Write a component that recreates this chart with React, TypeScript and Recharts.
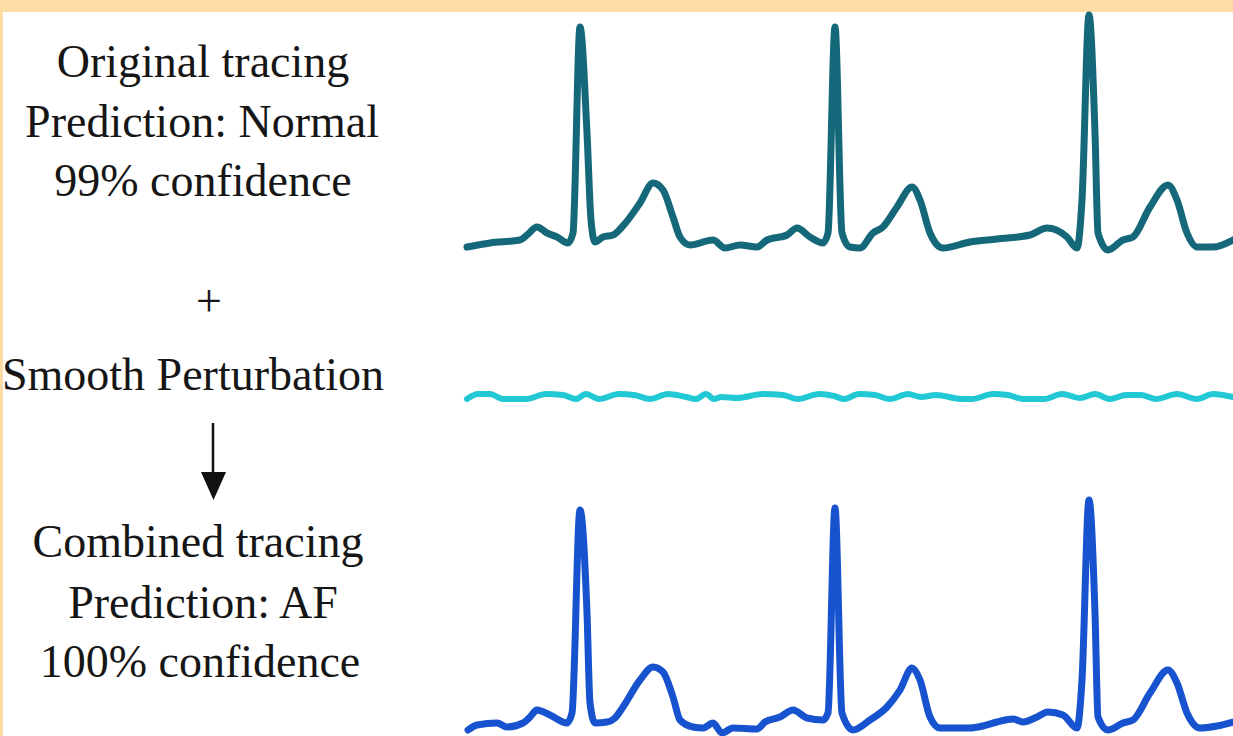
import React from "react";
import { LineChart, Line, XAxis, YAxis } from "recharts";

// ---- Data (time in samples, amplitude in arbitrary units above baseline) ----
const originalT = [467, 490, 520, 527, 537, 547, 557, 568, 573, 580, 587, 591, 595, 603, 613, 622, 640, 653, 663, 673, 680, 690, 713, 725, 740, 757, 767, 787, 797, 810, 823, 828, 835, 842, 850, 860, 873, 883, 897, 912, 920, 930, 943, 970, 997, 1030, 1047, 1067, 1077, 1082, 1089, 1095, 1098, 1108, 1123, 1133, 1150, 1168, 1177, 1187, 1197, 1213, 1233];
const originalV = [3, 7, 10, 15, 23, 17, 13, 7, 17, 223, 117, 30, 8, 13, 15, 23, 47, 67, 60, 33, 13, 5, 10, 2, 5, 3, 10, 15, 22, 13, 7, 17, 223, 17, 3, 2, 17, 23, 43, 63, 50, 17, 2, 8, 11, 15, 22, 13, 2, 50, 235, 117, 17, 0, 10, 13, 43, 65, 50, 17, 3, 3, 10];

const perturbT = [467, 478, 490, 503, 526, 546, 563, 576, 586, 599, 619, 634, 650, 668, 686, 696, 706, 714, 721, 737, 763, 783, 798, 819, 834, 844, 859, 875, 890, 908, 921, 936, 962, 972, 993, 1008, 1023, 1044, 1062, 1080, 1095, 1110, 1126, 1141, 1156, 1177, 1197, 1213, 1233];
const perturbV = [0, 5, 5, 0, 0, 5, 4, 0, 5, 0, 5, 4, 0, 5, 2, 0, 5, 0, 2, 1, 5, 4, 0, 5, 3, 0, 5, 4, 0, 5, 2, 4, 0, 0, 5, 4, 0, 0, 5, 1, 5, 0, 4, 4, 0, 5, 0, 5, 2];

const combinedT = [468, 477, 497, 507, 523, 530, 537, 550, 567, 572, 580, 587, 590, 595, 607, 615, 623, 640, 653, 663, 673, 680, 693, 703, 713, 722, 733, 757, 765, 780, 793, 807, 823, 828, 835, 842, 853, 870, 887, 900, 912, 920, 930, 940, 970, 983, 997, 1013, 1023, 1037, 1048, 1063, 1077, 1082, 1089, 1095, 1098, 1108, 1123, 1133, 1150, 1168, 1177, 1187, 1200, 1217, 1233];
const combinedV = [0, 5, 7, 3, 7, 13, 20, 15, 7, 17, 220, 117, 27, 7, 8, 12, 23, 50, 63, 58, 33, 10, 3, 2, 7, -3, 2, 1, 8, 13, 20, 12, 10, 17, 222, 17, 0, 10, 23, 40, 62, 50, 13, 2, 2, 4, 8, 11, 8, 13, 18, 15, 2, 50, 230, 117, 13, 0, 7, 10, 37, 60, 47, 17, 2, 4, 8];

const labelsTop = ["Original tracing", "Prediction: Normal", "99% confidence"];
const labelsMid = ["+", "Smooth Perturbation"];
const labelsBottom = ["Combined tracing", "Prediction: AF", "100% confidence"];

const toRows = (t: number[], v: number[]) => t.map((x, i) => ({ t: x, v: v[i] }));

const X_DOMAIN: [number, number] = [450, 1240];
const M = 8;

type TraceProps = {
  rows: { t: number; v: number }[];
  yDomain: [number, number];
  plotTop: number;
  color: string;
  width: number;
};

function Trace({ rows, yDomain, plotTop, color, width }: TraceProps) {
  const plotH = yDomain[1] - yDomain[0];
  const plotW = X_DOMAIN[1] - X_DOMAIN[0];
  return (
    <div style={{ position: "absolute", left: X_DOMAIN[0] - M, top: plotTop - M }}>
      <LineChart
        width={plotW + 2 * M}
        height={plotH + 2 * M}
        data={rows}
        margin={{ top: M, right: M, bottom: M, left: M }}
      >
        <XAxis type="number" dataKey="t" domain={X_DOMAIN} hide />
        <YAxis type="number" domain={yDomain} hide />
        <Line
          type="monotone"
          dataKey="v"
          stroke={color}
          strokeWidth={width}
          strokeLinejoin="round"
          strokeLinecap="round"
          dot={false}
          activeDot={false}
          isAnimationActive={false}
        />
      </LineChart>
    </div>
  );
}

export default function App() {
  const font = "'Liberation Serif', 'Times New Roman', serif";
  const textProps = { fontFamily: font, fontSize: 46, fill: "#161616", textAnchor: "middle" as const };
  return (
    <div
      style={{
        position: "fixed",
        left: 0,
        top: 0,
        width: 1233,
        height: 736,
        overflow: "hidden",
        background: "#ffffff",
      }}
    >
      <div style={{ position: "absolute", left: 0, top: 0, width: 1233, height: 12, background: "#ffdca6" }} />
      <div style={{ position: "absolute", left: 0, top: 0, width: 3, height: 736, background: "#ffdca6" }} />

      <svg width={1233} height={736} style={{ position: "absolute", left: 0, top: 0 }}>
        <text x={203} y={77} {...textProps}>{labelsTop[0]}</text>
        <text x={202} y={137} {...textProps}>{labelsTop[1]}</text>
        <text x={203} y={196} {...textProps}>{labelsTop[2]}</text>
        <text x={209} y={316} {...textProps}>{labelsMid[0]}</text>
        <text x={193} y={390} {...textProps}>{labelsMid[1]}</text>
        <line x1={213} y1={423} x2={213} y2={476} stroke="#111" strokeWidth={2.5} />
        <path d="M201,472 L226,472 L213.5,500 Z" fill="#111" />
        <text x={198} y={557} {...textProps}>{labelsBottom[0]}</text>
        <text x={203} y={618} {...textProps}>{labelsBottom[1]}</text>
        <text x={200} y={677} {...textProps}>{labelsBottom[2]}</text>
      </svg>

      <Trace rows={toRows(originalT, originalV)} yDomain={[0, 235]} plotTop={15} color="#14687a" width={7} />
      <Trace rows={toRows(perturbT, perturbV)} yDomain={[0, 5]} plotTop={394} color="#22c8d3" width={6} />
      <Trace rows={toRows(combinedT, combinedV)} yDomain={[-3, 230]} plotTop={500} color="#1753cf" width={7} />
    </div>
  );
}
